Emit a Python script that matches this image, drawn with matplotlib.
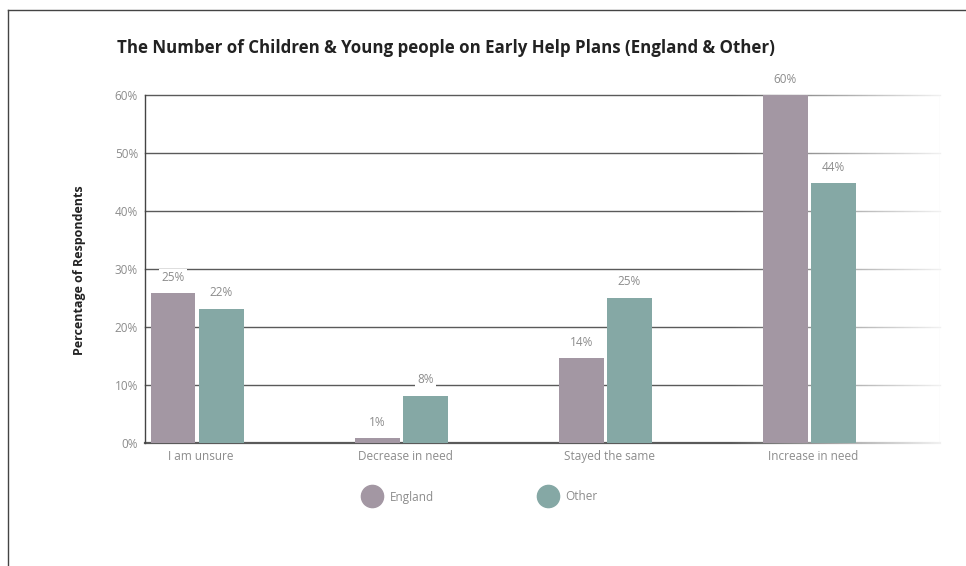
import matplotlib.pyplot as plt
import numpy as np
from matplotlib.lines import Line2D

# data
categories = ["I am unsure", "Decrease in need", "Stayed the same", "Increase in need"]
england = [25.9, 0.9, 14.7, 60.0]
other = [23.2, 8.2, 25.1, 44.9]
england_labels = ["25%", "1%", "14%", "60%"]
other_labels = ["22%", "8%", "25%", "44%"]
yticks = [0, 10, 20, 30, 40, 50, 60]

ENG_COL = "#a397a3"
OTH_COL = "#85a8a5"
GREY_TXT = "#8c8c8c"

plt.rcParams['font.family'] = ['Open Sans', 'DejaVu Sans']

fig = plt.figure(figsize=(9.66, 5.66), dpi=100)
ax = fig.add_axes([145/966, 1 - 443.3/566, 795/966, 348/566])

x = np.arange(len(categories))
w = 0.22
off = 0.118
xmin, xmax = -0.255, 3.64
fade_start = 2.6

#gridlines, dark; a white gradient over the right part fades them out
for yv in yticks:
    ax.axhline(yv, color="#5a5a5a", lw=1.0 if yv > 0 else 1.6, zorder=1, clip_on=False)
ramp = np.zeros((2, 200, 4))
ramp[..., :3] = 1.0
ramp[..., 3] = np.linspace(0, 0.93, 200)[None, :]
ax.imshow(ramp, extent=[fade_start, xmax + 0.01, -1, 61], aspect="auto", zorder=1.5,
          interpolation="bilinear", clip_on=False)

ax.bar(x - off, england, width=w, color=ENG_COL, zorder=2, clip_on=False)
ax.bar(x + off, other, width=w, color=OTH_COL, zorder=2, clip_on=False)

for i in range(len(categories)):
    ax.text(x[i] - off, england[i] + 1.6, england_labels[i], ha="center", va="bottom",
            fontsize=8.5, color=GREY_TXT, zorder=3,
            bbox=dict(facecolor="white", edgecolor="none", pad=1.5))
    ax.text(x[i] + off, other[i] + 1.6, other_labels[i], ha="center", va="bottom",
            fontsize=8.5, color=GREY_TXT, zorder=3,
            bbox=dict(facecolor="white", edgecolor="none", pad=1.5))

ax.set_xlim(xmin, xmax)
ax.set_ylim(0, 60)
ax.set_yticks(yticks)
ax.set_yticklabels(["%d%%" % v for v in yticks], fontsize=8.5, color=GREY_TXT)
ax.set_xticks(x + 0.02)
ax.set_xticklabels(categories, fontsize=8.5, color=GREY_TXT)
ax.tick_params(length=0, pad=5)
for s in ["top", "right", "bottom"]:
    ax.spines[s].set_visible(False)
ax.spines["left"].set_color("#444444")
ax.spines["left"].set_linewidth(1.0)
ax.axvline(xmax, color="#f2f2f2", lw=1, zorder=3)

fig.text(117/966, 1 - 48/566, "The Number of Children & Young people on Early Help Plans (England & Other)",
         fontsize=12.15, fontweight="bold", color="#222222", ha="left", va="center")
fig.text(80/966, 1 - 270/566, "Percentage of Respondents", rotation=90, fontsize=9,
         fontweight="bold", color="#222222", ha="center", va="center")

# outer frame (top and left)
fig.add_artist(Line2D([8/966, 1], [1 - 10/566, 1 - 10/566], color="#444444", lw=1))
fig.add_artist(Line2D([8/966, 8/966], [0, 1 - 10/566], color="#444444", lw=1))

handles = [Line2D([], [], marker="o", ls="", markersize=16, color=ENG_COL),
           Line2D([], [], marker="o", ls="", markersize=16, color=OTH_COL)]
leg = fig.legend(handles, ["England", "Other"], loc="center", bbox_to_anchor=(482/966, 1 - 497/566),
                 ncol=2, frameon=False, fontsize=8.5, handletextpad=0.95, columnspacing=9.2,
                 handlelength=1.0)
for t in leg.get_texts():
    t.set_color(GREY_TXT)

fig.savefig("out.png", dpi=100)
